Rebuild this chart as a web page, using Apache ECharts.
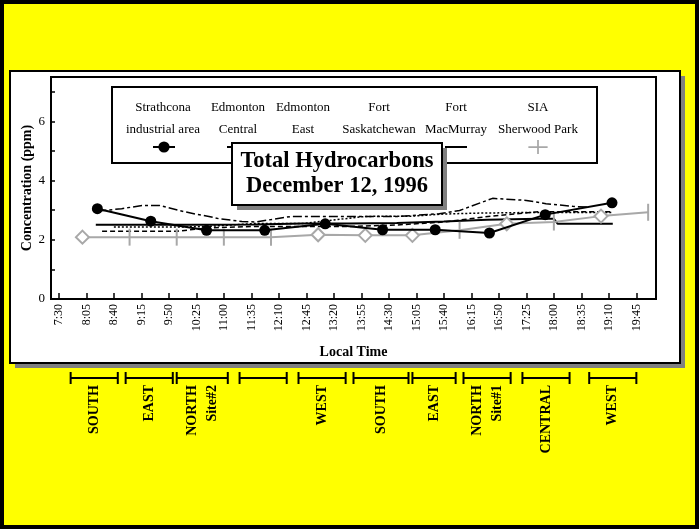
<!DOCTYPE html>
<html style="height: 100%">
<head>
    <meta charset="utf-8">
    <title>Total Hydrocarbons</title>
    <script src="https://cdn.jsdelivr.net/npm/echarts@6.0.0/dist/echarts.min.js"></script>
</head>
<body style="height: 100%; margin: 0">
<div id="main" style="width: 699px; height: 529px"></div>
<script type="text/javascript">
// tick labels of the time axis
var tickLabels = ['7:30', '8:05', '8:40', '9:15', '9:50', '10:25', '11:00', '11:35', '12:10', '12:45', '13:20',
    '13:55', '14:30', '15:05', '15:40', '16:15', '16:50', '17:25', '18:00', '18:35', '19:10', '19:45'];

// series names and legend captions
var seriesNames = ['Strathcona industrial area', 'Edmonton Central', 'Edmonton East',
    'Fort Saskatchewan', 'Fort MacMurray', 'SIA Sherwood Park'];
var legendTop = ['Strathcona', 'Edmonton', 'Edmonton', 'Fort', 'Fort', 'SIA'];
var legendBottom = ['industrial area', 'Central', 'East', 'Saskatchewan', 'MacMurray', 'Sherwood Park'];
var titleLines = ['Total Hydrocarbons', 'December 12, 1996'];

// Strathcona (mobile samples)
var strathTimes = ['8:19', '9:27', '10:38', '11:52', '13:09', '14:22', '15:29', '16:38', '17:49', '19:14'];
var strathValues = [3.05, 2.63, 2.32, 2.32, 2.54, 2.34, 2.34, 2.23, 2.85, 3.25];

// Edmonton Central
var centralTimes = ['8:25', '10:00', '10:40', '11:40', '12:40', '13:40', '14:40', '15:40', '16:40', '17:40', '18:40', '19:15'];
var centralValues = [2.29, 2.29, 2.4, 2.45, 2.45, 2.45, 2.5, 2.6, 2.8, 2.95, 2.95, 2.95];

// Edmonton East
var eastTimes = ['8:40', '10:00', '10:40', '11:40', '12:40', '14:00', '15:00', '15:40', '16:20', '17:20', '18:20', '19:15'];
var eastValues = [2.43, 2.43, 2.45, 2.55, 2.55, 2.79, 2.8, 2.87, 2.9, 2.92, 2.92, 2.92];

// Fort Saskatchewan
var fsaskTimes = ['8:19', '8:50', '9:16', '9:38', '10:03', '10:25', '10:41', '10:54', '11:23', '11:40',
    '12:26', '14:43', '15:34', '16:00', '16:42', '17:25', '17:50', '18:24', '18:45'];
var fsaskValues = [2.97, 3.05, 3.16, 3.16, 2.99, 2.86, 2.79, 2.71, 2.62, 2.6,
    2.79, 2.79, 2.88, 2.99, 3.4, 3.33, 3.22, 3.13, 3.1];

// Fort MacMurray
var fmacTimes = ['8:17', '9:20', '10:40', '11:40', '12:40', '13:40', '14:40', '15:40', '16:35', '17:40', '18:00', '18:05', '19:15'];
var fmacValues = [2.51, 2.51, 2.51, 2.52, 2.55, 2.55, 2.57, 2.62, 2.68, 2.71, 2.71, 2.54, 2.54];

// SIA Sherwood Park (hourly)
var siaTimes = ['8:00', '9:00', '10:00', '11:00', '12:00', '13:00', '14:00', '15:00', '16:00', '17:00', '18:00', '19:00', '20:00'];
var siaValues = [2.09, 2.09, 2.09, 2.09, 2.09, 2.17, 2.15, 2.15, 2.32, 2.54, 2.6, 2.8, 2.93];
var siaMarks = ['diamond', 'bar', 'bar', 'bar', 'bar', 'diamond', 'diamond', 'diamond', 'bar', 'diamond', 'bar', 'diamond', 'bar'];

// sampling zones under the chart
var zoneStart = ['7:45', '8:55', '10:00', '11:20', '12:35', '13:45', '15:00', '16:05', '17:20', '18:45'];
var zoneEnd = ['8:45', '9:55', '11:05', '12:20', '13:35', '14:55', '15:55', '17:05', '18:20', '19:45'];
var zoneLabel = ['SOUTH', 'EAST', 'NORTH', '', 'WEST', 'SOUTH', 'EAST', 'NORTH', 'CENTRAL', 'WEST'];
var zoneSub = ['', '', 'Site#2', '', '', '', '', 'Site#1', '', ''];

var FONT = '"Liberation Serif", "Times New Roman", serif';
var GREY = '#a8a8a8';
var SHADOW = '#808080';

function toMin(s) {
    var p = s.split(':');
    return parseInt(p[0], 10) * 60 + parseInt(p[1], 10);
}
function fmt(m) {
    var h = Math.floor(m / 60), mm = Math.round(m % 60);
    return h + ':' + (mm < 10 ? '0' : '') + mm;
}
function pairs(times, values) {
    var res = [];
    for (var i = 0; i < times.length; i++) {
        res.push([toMin(times[i]), values[i]]);
    }
    return res;
}
// white box with a flat grey drop shadow
function shadowBox(id, x, y, w, h, z) {
    return [
        {id: id + 'Shadow', type: 'rect', z: z, silent: true,
            shape: {x: x + 5, y: y + 5, width: w, height: h}, style: {fill: SHADOW, stroke: null}},
        {id: id + 'Box', type: 'rect', z: z + 1, silent: true,
            shape: {x: x, y: y, width: w, height: h}, style: {fill: '#fff', stroke: '#000', lineWidth: 2}}
    ];
}

var tickMins = tickLabels.map(toMin);

var siaData = [];
for (var i = 0; i < siaTimes.length; i++) {
    if (siaMarks[i] === 'diamond') {
        siaData.push({
            value: [toMin(siaTimes[i]), siaValues[i]],
            symbol: 'diamond', symbolSize: 13,
            itemStyle: {color: '#fff', borderColor: GREY, borderWidth: 2}
        });
    } else {
        siaData.push({
            value: [toMin(siaTimes[i]), siaValues[i]],
            symbol: 'rect', symbolSize: [2, 17],
            itemStyle: {color: GREY, borderWidth: 0}
        });
    }
}

var zoneData = [];
for (var i = 0; i < zoneStart.length; i++) {
    zoneData.push([toMin(zoneStart[i]), toMin(zoneEnd[i]), i]);
}

function renderZone(params, api) {
    var s = api.coord([api.value(0), 0.5]);
    var e = api.coord([api.value(1), 0.5]);
    var top = api.coord([api.value(0), 1])[1];
    var bot = api.coord([api.value(0), 0])[1];
    var idx = api.value(2);
    var lineStyle = {stroke: '#000', lineWidth: 2};
    var children = [
        {type: 'line', shape: {x1: s[0], y1: s[1], x2: e[0], y2: e[1]}, style: lineStyle},
        {type: 'line', shape: {x1: s[0], y1: top, x2: s[0], y2: bot}, style: lineStyle},
        {type: 'line', shape: {x1: e[0], y1: top, x2: e[0], y2: bot}, style: lineStyle}
    ];
    var cx = (s[0] + e[0]) / 2;
    var font = 'bold 14px ' + FONT;
    if (zoneSub[idx]) {
        children.push({type: 'text', x: cx - 10, y: bot + 1, rotation: Math.PI / 2,
            style: {text: zoneLabel[idx], align: 'right', verticalAlign: 'middle', font: font, fill: '#000'}});
        children.push({type: 'text', x: cx + 10, y: bot + 1, rotation: Math.PI / 2,
            style: {text: zoneSub[idx], align: 'right', verticalAlign: 'middle', font: font, fill: '#000'}});
    } else if (zoneLabel[idx]) {
        children.push({type: 'text', x: cx, y: bot + 1, rotation: Math.PI / 2,
            style: {text: zoneLabel[idx], align: 'right', verticalAlign: 'middle', font: font, fill: '#000'}});
    }
    return {type: 'group', children: children};
}

// legend: symbols via legend components, captions as text
var legendX = [163, 238, 303, 379, 456, 538];
var LINE_ICON = 'path://M0,7H22V9H0Z';
var legends = [];
var legendTexts = [];
for (var i = 0; i < seriesNames.length; i++) {
    var item = {name: seriesNames[i]};
    if (i === 5) {
        item.icon = 'path://M0,7H22V9H0Z M10,0H12V16H10Z';
        item.itemStyle = {color: GREY};
    } else if (i > 0) {
        item.icon = LINE_ICON;
        item.itemStyle = {color: '#000'};
    }
    legends.push({
        data: [item],
        left: legendX[i] - 11, top: 140,
        itemWidth: 22, itemHeight: 14, padding: 0,
        formatter: function () { return ''; },
        selectedMode: false,
        z: 4
    });
    legendTexts.push({
        id: 'legendText' + i,
        type: 'text', x: legendX[i], y: 97, z: 3,
        style: {text: legendTop[i] + '\n' + legendBottom[i], align: 'center', verticalAlign: 'top',
            font: '13px ' + FONT, lineHeight: 22, fill: '#000'}
    });
}

var graphics = []
    .concat(shadowBox('panel', 10, 71, 670, 292, -2))
    .concat([{
        id: 'legendBox', type: 'rect', z: 1, silent: true,
        shape: {x: 112, y: 87, width: 485, height: 76},
        style: {fill: '#fff', stroke: '#000', lineWidth: 2}
    }])
    .concat(legendTexts)
    .concat(shadowBox('title', 232, 143, 210, 62, 20))
    .concat([{
        id: 'titleText', type: 'text', z: 22, x: 337, y: 174, silent: true,
        style: {text: titleLines.join('\n'), align: 'center', verticalAlign: 'middle',
            font: 'bold 22.5px ' + FONT, lineHeight: 25, fill: '#000'}
    }, {
        id: 'frame', type: 'rect', z: 100, silent: true,
        shape: {x: 0, y: 0, width: 699, height: 529},
        style: {fill: null, stroke: '#000', lineWidth: 8}
    }]);

var myChart = echarts.init(document.getElementById('main'));

var option = {
    animation: false,
    backgroundColor: '#ffff00',
    legend: legends,
    graphic: {elements: graphics},
    grid: [
        {left: 51, right: 43, top: 77, height: 222, show: true, borderColor: '#000', borderWidth: 2, backgroundColor: 'transparent'},
        {left: 51, right: 43, top: 372, height: 12}
    ],
    xAxis: [
        {
            type: 'value', gridIndex: 0, min: 440, max: 1210,
            axisLine: {lineStyle: {color: '#000', width: 2}},
            axisTick: {customValues: tickMins, inside: true, length: 6, lineStyle: {color: '#000', width: 1.5}},
            axisLabel: {customValues: tickMins, formatter: fmt, rotate: 90, margin: 5,
                fontFamily: FONT, fontSize: 12, color: '#000'},
            splitLine: {show: false},
            name: 'Local Time', nameLocation: 'middle', nameGap: 46,
            nameTextStyle: {fontFamily: FONT, fontWeight: 'bold', fontSize: 14, color: '#000'}
        },
        {type: 'value', gridIndex: 1, min: 440, max: 1210, show: false}
    ],
    yAxis: [
        {
            type: 'value', gridIndex: 0, min: 0, max: 7.5, interval: 1,
            axisLine: {show: true, lineStyle: {color: '#000', width: 2}},
            axisTick: {show: true, inside: true, length: 4, lineStyle: {color: '#000', width: 1.5}},
            axisLabel: {
                formatter: function (v) { return v % 2 === 0 ? String(v) : ''; },
                showMaxLabel: false, margin: 6,
                fontFamily: FONT, fontSize: 13, color: '#000'
            },
            splitLine: {show: false},
            name: 'Concentration (ppm)', nameLocation: 'middle', nameGap: 17, nameMoveOverlap: false,
            nameTextStyle: {fontFamily: FONT, fontWeight: 'bold', fontSize: 14, color: '#000'}
        },
        {type: 'value', gridIndex: 1, min: 0, max: 1, show: false}
    ],
    series: [
        {
            name: seriesNames[0], type: 'line', data: pairs(strathTimes, strathValues),
            symbol: 'circle', symbolSize: 11, showSymbol: true,
            itemStyle: {color: '#000'}, lineStyle: {color: '#000', width: 2}, z: 5
        },
        {
            name: seriesNames[1], type: 'line', data: pairs(centralTimes, centralValues),
            symbol: 'none', itemStyle: {color: '#000'},
            lineStyle: {color: '#000', width: 1.5, type: [5, 3]}
        },
        {
            name: seriesNames[2], type: 'line', data: pairs(eastTimes, eastValues),
            symbol: 'none', itemStyle: {color: '#000'},
            lineStyle: {color: '#000', width: 1.5, type: [2, 2]}
        },
        {
            name: seriesNames[3], type: 'line', data: pairs(fsaskTimes, fsaskValues),
            symbol: 'none', itemStyle: {color: '#000'},
            lineStyle: {color: '#000', width: 1.5, type: [9, 3, 3, 3]}
        },
        {
            name: seriesNames[4], type: 'line', data: pairs(fmacTimes, fmacValues),
            symbol: 'none', itemStyle: {color: '#000'},
            lineStyle: {color: '#000', width: 2}
        },
        {
            name: seriesNames[5], type: 'line', data: siaData,
            symbol: 'rect', symbolSize: [2, 17], showSymbol: true,
            itemStyle: {color: GREY}, lineStyle: {color: GREY, width: 2}, z: 4
        },
        {
            name: 'zones', type: 'custom', xAxisIndex: 1, yAxisIndex: 1,
            data: zoneData, renderItem: renderZone, clip: false, silent: true
        }
    ]
};

myChart.setOption(option);
</script>
</body>
</html>
